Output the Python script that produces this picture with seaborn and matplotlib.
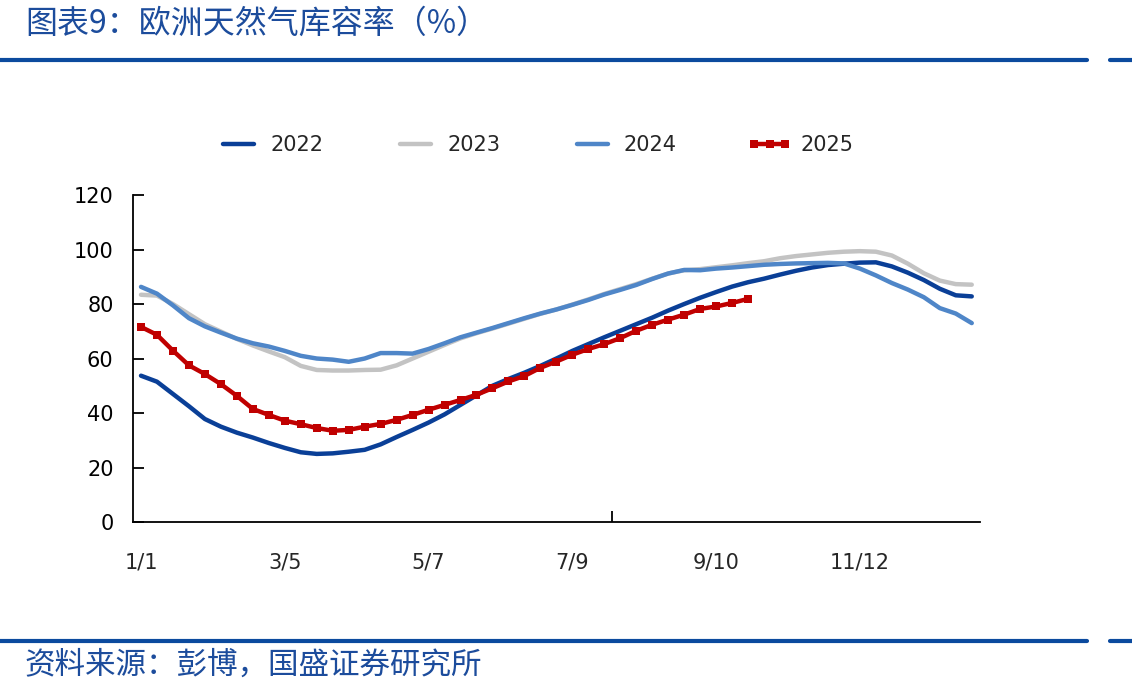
import numpy as np
import pandas as pd
import seaborn as sns
import matplotlib.pyplot as plt
from matplotlib.lines import Line2D

# weekly series, first week = 1/1
tick_labels = ['1/1', '3/5', '5/7', '7/9', '9/10', '11/12']
tick_step = 9

y2022 = [53.7, 51.5, 47.0, 42.5, 37.8, 35.0, 32.8, 31.0, 29.0, 27.2,
         25.6, 25.0, 25.2, 25.8, 26.5, 28.5, 31.2, 33.8, 36.5, 39.5,
         43.0, 46.5, 50.0, 52.5, 54.8, 57.3, 60.0, 62.8, 65.3, 67.8,
         70.2, 72.6, 75.0, 77.6, 80.0, 82.3, 84.4, 86.4, 88.0, 89.3,
         90.8, 92.2, 93.4, 94.3, 94.8, 95.2, 95.3, 93.8, 91.5, 88.8,
         85.6, 83.2, 82.8]
y2023 = [83.4, 83.1, 80.0, 76.3, 72.6, 69.9, 67.2, 64.8, 62.6, 60.5,
         57.3, 55.8, 55.6, 55.6, 55.8, 55.9, 57.5, 60.0, 62.5, 65.0,
         67.4, 69.3, 71.0, 72.8, 74.6, 76.4, 78.0, 79.8, 81.7, 83.7,
         85.5, 87.3, 89.3, 91.2, 92.4, 92.8, 93.5, 94.2, 95.0, 95.7,
         96.8, 97.6, 98.2, 98.8, 99.2, 99.4, 99.2, 97.8, 94.8, 91.3,
         88.6, 87.3, 87.1]
y2024 = [86.3, 83.8, 79.5, 74.8, 71.8, 69.5, 67.3, 65.6, 64.4, 62.8,
         61.0, 60.0, 59.6, 58.8, 60.0, 62.0, 62.0, 61.8, 63.5, 65.6,
         67.8, 69.5, 71.2, 73.0, 74.8, 76.5, 78.0, 79.7, 81.5, 83.5,
         85.2, 87.0, 89.2, 91.2, 92.5, 92.4, 93.0, 93.4, 93.9, 94.4,
         94.7, 94.9, 95.0, 95.1, 94.9, 93.0, 90.5, 87.7, 85.3, 82.5,
         78.5, 76.5, 73.0]
y2025 = [71.6, 68.7, 62.9, 57.5, 54.3, 50.6, 46.3, 41.5, 39.3, 37.2,
         35.9, 34.5, 33.5, 33.8, 35.0, 36.0, 37.5, 39.3, 41.2, 43.0,
         44.8, 46.7, 49.1, 51.6, 53.6, 56.6, 58.9, 61.4, 63.5, 65.3,
         67.5, 70.2, 72.4, 74.3, 76.1, 78.2, 79.1, 80.4, 81.9]

series = [('2022', y2022, '#0A3F97'),
          ('2023', y2023, '#C3C3C3'),
          ('2024', y2024, '#4F86C8'),
          ('2025', y2025, '#C00000')]

sns.set_style('white')
plt.rcParams['font.family'] = ['Noto Sans CJK SC', 'DejaVu Sans']
plt.rcParams['ytick.left'] = True
plt.rcParams['xtick.bottom'] = True

fig = plt.figure(figsize=(11.32, 6.98), dpi=100)
ax = fig.add_axes([0.1175, 0.2521, 0.748, 0.4685])

for name, vals, col in series:
    df = pd.DataFrame({'week': np.arange(len(vals)), 'val': vals})
    if name == '2025':
        sns.lineplot(data=df, x='week', y='val', ax=ax, color=col, lw=3.2,
                     marker='s', markersize=5.5, markeredgewidth=0, label=name)
    else:
        sns.lineplot(data=df, x='week', y='val', ax=ax, color=col, lw=3.2, label=name)

n = len(y2022)
ax.set_xlim(-0.5, n - 0.5)
ax.set_ylim(0, 120)
ax.set_yticks(range(0, 121, 20))
ax.set_xticks(range(0, tick_step * len(tick_labels), tick_step))
ax.set_xticklabels(tick_labels, family=['Liberation Sans Narrow', 'DejaVu Sans'], fontsize=15)
ax.set_xlabel('')
ax.set_ylabel('')
ax.tick_params(axis='y', which='major', left=True, direction='in', length=8, width=1.3,
               pad=14, labelsize=15, color='black', labelcolor='black')
ax.tick_params(axis='x', which='major', bottom=True, length=0, pad=22)
ax.set_xticks([29.5], minor=True)
ax.tick_params(axis='x', which='minor', bottom=True, direction='in', length=8, width=1.3,
               color='black')
for t in ax.yaxis.get_major_ticks():
    t.tick1line.set_visible(True)
    t.tick1line.set_color('black')
for lbl in ax.get_yticklabels():
    lbl.set_family('DejaVu Sans')

for s in ['top', 'right']:
    ax.spines[s].set_visible(False)
for s in ['left', 'bottom']:
    ax.spines[s].set_color('black')
    ax.spines[s].set_linewidth(1.3)

leg = ax.legend(loc='center', bbox_to_anchor=(0.473, 0.792), bbox_transform=fig.transFigure,
                ncol=4, frameon=False, fontsize=15, handlelength=2.1, handletextpad=0.45,
                columnspacing=3.4, numpoints=3)
for t in leg.get_texts():
    t.set_family('DejaVu Sans')

rule = '#0B4A9E'
for yy in [0.914, 0.0817]:
    fig.add_artist(Line2D([0, 0.960], [yy, yy], color=rule, lw=3, transform=fig.transFigure))
    fig.add_artist(Line2D([0.9806, 1.0], [yy, yy], color=rule, lw=3, transform=fig.transFigure))

fig.text(0.022, 0.966, '图表9：欧洲天然气库容率（%）', fontsize=23, color='#1C4C9C',
         va='center', ha='left', style='italic')
fig.text(0.022, 0.047, '资料来源：彭博，国盛证券研究所', fontsize=22, color='#1C4C9C',
         va='center', ha='left', style='italic')

fig.savefig('out.png', dpi=100)
